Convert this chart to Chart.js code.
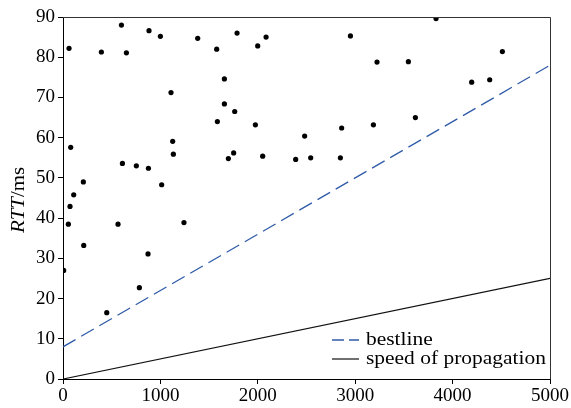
<!DOCTYPE html>
<html lang="en">
<head>
    <meta charset="UTF-8">
    <title>RTT scatter</title>
    <style>
        body { margin: 0; background: white; }
        #wrap { width: 571px; height: 408px; }
    </style>
</head>
<body>
    <div id="wrap"><canvas id="rttChart" width="571" height="408"></canvas></div>

    <script src="https://cdn.jsdelivr.net/npm/chart.js"></script>
    <script>
        // measured points (distance, RTT in ms)
        const distX = [62, 394, 600, 651, 883, 1000, 1383, 1109, 79, 1126, 1133, 610, 753, 877, 1013, 209, 110,
            72, 55, 565, 1242, 213, 873, 7, 784, 449,
            1578, 1787, 1999, 2085, 2951, 3224, 1657, 1657, 1763, 1585, 1975, 2481, 2861, 3187,
            1698, 1752, 2050, 2389, 2543, 2848,
            3830, 3546, 4511, 4196, 4381, 3618];
        const rttY = [82.2, 81.3, 88.0, 81.1, 86.6, 85.2, 84.7, 71.2, 57.6, 59.1, 55.9, 53.6, 53.0, 52.4, 48.3, 49.0, 45.8,
            42.9, 38.5, 38.5, 38.9, 33.2, 31.1, 27.0, 22.7, 16.5,
            82.0, 86.0, 82.8, 85.0, 85.3, 78.8, 74.6, 68.4, 66.5, 64.0, 63.2, 60.4, 62.4, 63.2,
            54.8, 56.2, 55.4, 54.6, 55.0, 55.0,
            89.6, 78.9, 81.4, 73.8, 74.4, 65.0];

        const lineX = [0, 5000];
        const bestY = [8, 78];
        const propY = [0, 25];

        const xTicks = [0, 1000, 2000, 3000, 4000, 5000];
        const yTicks = [0, 10, 20, 30, 40, 50, 60, 70, 80, 90];

        const FONT = '"Liberation Serif", "Times New Roman", serif';
        const FSIZE = 19;
        const STRETCH = 1.1; // the original text is a bit wide

        const pts = distX.map((x, i) => ({ x: x, y: rttY[i] }));
        const best = lineX.map((x, i) => ({ x: x, y: bestY[i] }));
        const prop = lineX.map((x, i) => ({ x: x, y: propY[i] }));

        // frame, y title and legend drawn by hand
        const extras = {
            id: 'extras',
            afterDraw(chart) {
                const ctx = chart.ctx;
                const a = chart.chartArea;
                ctx.save();
                ctx.strokeStyle = '#333';
                ctx.lineWidth = 1;
                ctx.beginPath();
                ctx.moveTo(a.left, a.top + 0.5);
                ctx.lineTo(a.right + 0.5, a.top + 0.5);
                ctx.lineTo(a.right + 0.5, a.bottom);
                ctx.stroke();

                // y title: RTT italic + /ms
                ctx.translate(19, 200);
                ctx.rotate(-Math.PI / 2);
                ctx.scale(STRETCH, 1);
                ctx.fillStyle = '#000';
                ctx.textBaseline = 'middle';
                ctx.font = 'italic ' + FSIZE + 'px ' + FONT;
                const w1 = ctx.measureText('RTT').width;
                ctx.font = FSIZE + 'px ' + FONT;
                const w2 = ctx.measureText('/ms').width;
                let sx = -(w1 + w2) / 2;
                ctx.font = 'italic ' + FSIZE + 'px ' + FONT;
                ctx.fillText('RTT', sx, 0);
                ctx.font = FSIZE + 'px ' + FONT;
                ctx.fillText('/ms', sx + w1, 0);
                ctx.restore();

                // legend
                ctx.save();
                ctx.font = (FSIZE + 0.5) + 'px ' + FONT;
                ctx.textBaseline = 'middle';
                const rows = [chart.data.datasets[1], chart.data.datasets[2]];
                rows.forEach((ds, i) => {
                    const y = 340 + i * 19;
                    ctx.strokeStyle = ds.borderColor;
                    ctx.lineWidth = ds.borderWidth;
                    ctx.setLineDash(ds.borderDash ? [12, 5] : []);
                    ctx.beginPath();
                    ctx.moveTo(332, y);
                    ctx.lineTo(359, y);
                    ctx.stroke();
                    ctx.setLineDash([]);
                    ctx.fillStyle = '#000';
                    ctx.save();
                    ctx.translate(366, y);
                    ctx.scale(STRETCH, 1);
                    ctx.fillText(ds.label, 0, 0);
                    ctx.restore();
                });
                ctx.restore();
            }
        };

        new Chart(document.getElementById('rttChart'), {
            type: 'scatter',
            data: {
                datasets: [
                    {
                        label: 'RTT',
                        data: pts,
                        backgroundColor: '#000',
                        borderColor: '#000',
                        pointRadius: 2.6,
                        pointBorderWidth: 0
                    },
                    {
                        type: 'line',
                        label: 'bestline',
                        data: best,
                        borderColor: '#2f5ba8',
                        borderWidth: 1.3,
                        borderDash: [14.5, 6.5],
                        pointRadius: 0,
                        fill: false
                    },
                    {
                        type: 'line',
                        label: 'speed of propagation',
                        data: prop,
                        borderColor: '#111',
                        borderWidth: 1.2,
                        pointRadius: 0,
                        fill: false
                    }
                ]
            },
            options: {
                responsive: false,
                animation: false,
                layout: { padding: { top: 17, right: 21, left: 0, bottom: 0 } },
                plugins: {
                    legend: { display: false },
                    tooltip: { enabled: false }
                },
                scales: {
                    x: {
                        type: 'linear',
                        min: 0,
                        max: 5000,
                        afterBuildTicks: (s) => { s.ticks = xTicks.map(v => ({ value: v })); },
                        afterFit: (s) => { s.height = 29; },
                        grid: { drawOnChartArea: false, tickLength: 5, color: '#000' },
                        border: { color: '#000', width: 1 },
                        ticks: {
                            color: '#000',
                            padding: 1,
                            maxRotation: 0,
                            callback: (v) => String(v),
                            font: { family: FONT, size: FSIZE }
                        }
                    },
                    y: {
                        min: 0,
                        max: 90,
                        afterBuildTicks: (s) => { s.ticks = yTicks.map(v => ({ value: v })); },
                        afterFit: (s) => { s.width = 63; },
                        grid: { drawOnChartArea: false, tickLength: 5, color: '#000' },
                        border: { color: '#000', width: 1 },
                        ticks: {
                            color: '#000',
                            padding: 3,
                            callback: (v) => String(v),
                            font: { family: FONT, size: FSIZE }
                        }
                    }
                }
            },
            plugins: [extras]
        });
    </script>
</body>
</html>
